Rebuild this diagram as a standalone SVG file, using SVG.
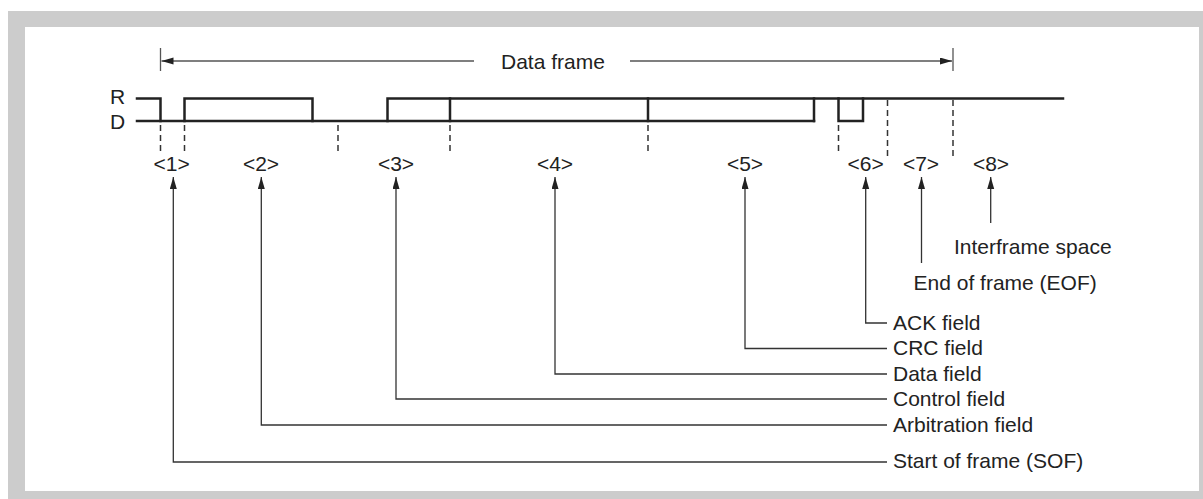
<svg xmlns="http://www.w3.org/2000/svg" width="1203" height="499" viewBox="0 0 1203 499">
<style>
text{font-family:"Liberation Sans",Arial,sans-serif;font-size:21px;fill:#222}
.lbl{text-anchor:middle}
.sig{fill:none;stroke:#222;stroke-width:2.5;stroke-linejoin:miter;stroke-linecap:square}
.dash{fill:none;stroke:#333;stroke-width:1.5;stroke-dasharray:6 4}
.con{fill:none;stroke:#333;stroke-width:1.3}
.tick{fill:none;stroke:#555;stroke-width:1.3}
</style>
<defs>
<marker id="ah" markerUnits="userSpaceOnUse" markerWidth="13" markerHeight="8" refX="12" refY="3.5" orient="auto">
<path d="M0,0 L12,3.5 L0,7 z" fill="#222"/>
</marker>
</defs>
<rect x="8" y="11" width="1195" height="488" fill="#cccccc"/>
<rect x="25" y="27" width="1174" height="464" fill="#ffffff"/>

<g id="frame-span">
<line class="tick" x1="160.5" y1="48" x2="160.5" y2="71"/>
<line class="tick" x1="953" y1="48" x2="953" y2="71"/>
<text x="501" y="69">Data frame</text>
</g>

<g id="levels">
<text x="110" y="104">R</text>
<text x="110" y="129">D</text>
</g>

<g id="signal">
<path class="sig" d="M137,98.5 H160.5 V121"/>
<path class="sig" d="M137,121 H814"/>
<path class="sig" d="M184.5,121 V98.5 H312.5 V121"/>
<path class="sig" d="M387.5,121 V98.5 H1063"/>
<path class="sig" d="M450,98.5 V121 M648,98.5 V121 M814,98.5 V121"/>
<path class="sig" d="M838.5,98.5 V121 H863 V98.5"/>
</g>

<g id="boundaries">
<path class="dash" d="M160.5,125 V153 M184.5,125 V153 M338,125 V153 M450,125 V153 M648,125 V153 M838.5,125 V153"/>
<path class="dash" d="M887.5,100 V158 M953,100 V158"/>
</g>

<g id="field-1"><text class="lbl" x="171.7" y="171">&lt;1&gt;</text><text x="893" y="468">Start of frame (SOF)</text></g>
<g id="field-2"><text class="lbl" x="261" y="171">&lt;2&gt;</text><text x="893" y="431.5">Arbitration field</text></g>
<g id="field-3"><text class="lbl" x="396" y="171">&lt;3&gt;</text><text x="893" y="406">Control field</text></g>
<g id="field-4"><text class="lbl" x="555" y="171">&lt;4&gt;</text><text x="893" y="381">Data field</text></g>
<g id="field-5"><text class="lbl" x="745" y="171">&lt;5&gt;</text><text x="893" y="355">CRC field</text></g>
<g id="field-6"><text class="lbl" x="865.7" y="171">&lt;6&gt;</text><text x="893" y="329.5">ACK field</text></g>
<g id="field-7"><text class="lbl" x="921" y="171">&lt;7&gt;</text><text x="913.5" y="290">End of frame (EOF)</text></g>
<g id="field-8"><text class="lbl" x="991" y="171">&lt;8&gt;</text><text x="954" y="253.5">Interframe space</text></g>

<g id="connectors">
<line class="tick" x1="474" y1="61" x2="161.5" y2="61" marker-end="url(#ah)"/>
<line class="tick" x1="630" y1="61" x2="952" y2="61" marker-end="url(#ah)"/>
<path class="con" d="M887,462 H173.3 V177" marker-end="url(#ah)"/>
<path class="con" d="M887,425 H261.3 V177" marker-end="url(#ah)"/>
<path class="con" d="M887,399 H396 V177" marker-end="url(#ah)"/>
<path class="con" d="M887,374 H555 V177" marker-end="url(#ah)"/>
<path class="con" d="M887,348.5 H745 V177" marker-end="url(#ah)"/>
<path class="con" d="M887,323 H865.7 V177" marker-end="url(#ah)"/>
<path class="con" d="M921.5,263 V177" marker-end="url(#ah)"/>
<path class="con" d="M990.7,223 V177" marker-end="url(#ah)"/>
</g>
</svg>
